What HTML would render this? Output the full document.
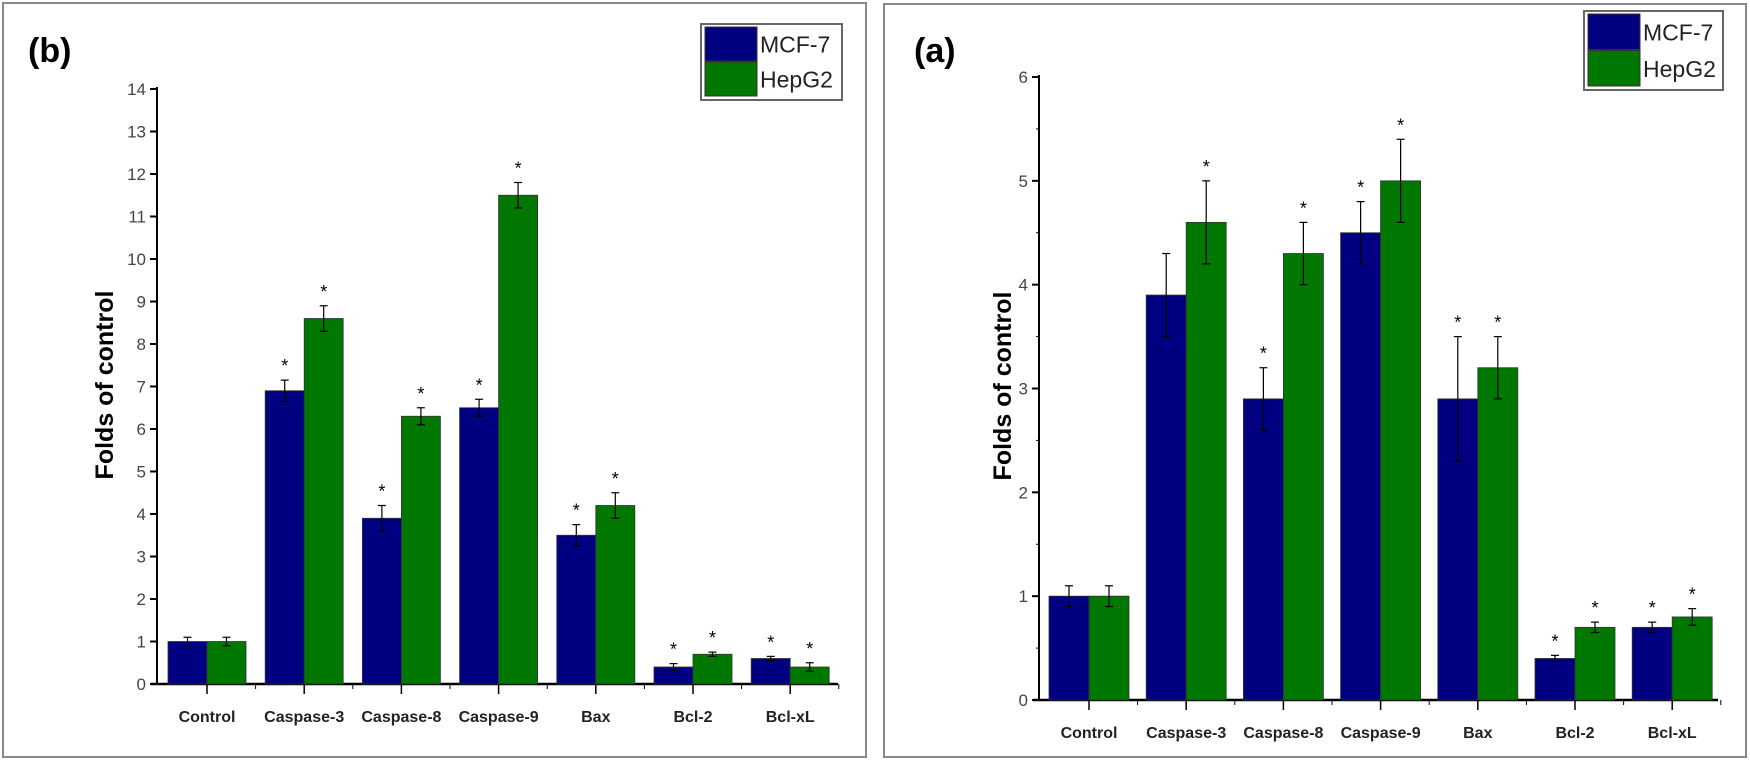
<!DOCTYPE html>
<html><head><meta charset="utf-8"><style>
body{margin:0;background:#fff;}
svg{display:block;font-family:"Liberation Sans",Arial,sans-serif;}
</style></head><body>
<svg id="s" width="1750" height="762">
<rect x="3" y="3" width="863" height="754" fill="none" stroke="#888" stroke-width="2"/>
<rect x="884" y="4" width="862" height="753" fill="none" stroke="#888" stroke-width="2"/>
<text x="28" y="62" font-size="34" font-weight="bold">(b)</text>
<text x="914" y="62" font-size="34" font-weight="bold">(a)</text>
</svg>
<script>
const categories=["Control","Caspase-3","Caspase-8","Caspase-9","Bax","Bcl-2","Bcl-xL"];
const bMcf=[1.0,6.9,3.9,6.5,3.5,0.4,0.6];
const bMcfErr=[0.1,0.25,0.3,0.2,0.25,0.08,0.05];
const bHep=[1.0,8.6,6.3,11.5,4.2,0.7,0.4];
const bHepErr=[0.1,0.3,0.2,0.3,0.3,0.05,0.1];
const aMcf=[1.0,3.9,2.9,4.5,2.9,0.4,0.7];
const aMcfErr=[0.1,0.4,0.3,0.3,0.6,0.03,0.05];
const aHep=[1.0,4.6,4.3,5.0,3.2,0.7,0.8];
const aHepErr=[0.1,0.4,0.3,0.4,0.3,0.05,0.08];
const bTicks=[0,1,2,3,4,5,6,7,8,9,10,11,12,13,14];
const aTicks=[0,1,2,3,4,5,6];
const bStars=[false,true,true,true,true,true,true];
const aStarsM=[false,false,true,true,true,true,true];
const aStarsH=[false,true,true,true,true,true,true];
const NS="http://www.w3.org/2000/svg";
const svg=document.getElementById('s');
function el(t,a,txt){const e=document.createElementNS(NS,t);for(const k in a)e.setAttribute(k,a[k]);if(txt!==undefined)e.textContent=txt;svg.appendChild(e);return e;}
function panel(p){
 const y=v=>p.y0-(v/p.max)*(p.y0-p.y1);
 const x=i=>p.first+i*p.step;
 let e=el('line',{x1:p.ax,y1:p.y0,x2:p.ax,y2:p.y1-2,stroke:'#000','stroke-width':2});
 
 e=el('line',{x1:p.ax-6,y1:p.y0,x2:p.xend,y2:p.y0,stroke:'#000','stroke-width':2.5});
 
 p.ticks.forEach(t=>{
  el('line',{x1:p.ax-7,y1:y(t),x2:p.ax,y2:y(t),stroke:'#000','stroke-width':2});
  e=el('text',{x:p.ax-11,y:y(t)+6,'font-size':17,'text-anchor':'end',fill:'#444'},t);
  
  if(p.minor&&t<p.max)el('line',{x1:p.ax-3,y1:y(t+0.5),x2:p.ax,y2:y(t+0.5),stroke:'#000','stroke-width':1});
 });
 categories.forEach((c,i)=>{
  const cx=x(i);
  el('line',{x1:cx,y1:p.y0,x2:cx,y2:p.y0+10,stroke:'#000','stroke-width':1.5});
  el('line',{x1:cx+p.step/2,y1:p.y0,x2:cx+p.step/2,y2:p.y0+5,stroke:'#000','stroke-width':1});
  e=el('text',{x:cx,y:p.y0+38,'font-size':16,'font-weight':'bold','text-anchor':'middle',fill:'#222'},c);
  
  [[p.m,p.me,'#000080',-p.bw,'mcf7',p.sm],[p.h,p.he,'#007800',0,'hepg2',p.sh]].forEach(s=>{
   const v=s[0][i],er=s[1][i],bx=cx+s[3];
   e=el('rect',{x:bx,y:y(v),width:p.bw,height:p.y0-y(v),fill:s[2],stroke:'#333','stroke-width':0.8});
   
   const mx=bx+p.bw/2;
   el('line',{x1:mx,y1:y(v+er),x2:mx,y2:y(v-er),stroke:'#000','stroke-width':1.2});
   el('line',{x1:mx-4,y1:y(v+er),x2:mx+4,y2:y(v+er),stroke:'#000','stroke-width':1.2});
   el('line',{x1:mx-4,y1:y(v-er),x2:mx+4,y2:y(v-er),stroke:'#000','stroke-width':1.2});
   if(s[5][i]){e=el('text',{x:mx,y:y(v+er)-8,'font-size':18,'text-anchor':'middle'},'*');
    }
  });
 });
 e=el('text',{x:0,y:0,'font-size':25,'font-weight':'bold','text-anchor':'middle',transform:`translate(${p.lx},${p.ly}) rotate(-90)`},'Folds of control');
 
 const L=p.leg;
 e=el('rect',{x:L[0],y:L[1],width:L[2],height:L[3],fill:'#fff',stroke:'#666','stroke-width':2});
 
 const hh=(L[3]-6)/2;
 [['MCF-7','#000080'],['HepG2','#007800']].forEach((s,k)=>{
  el('rect',{x:L[0]+4,y:L[1]+3+k*hh,width:52,height:hh-1,fill:s[1],stroke:'#333'});
  e=el('text',{x:L[0]+59,y:L[1]+3+k*hh+hh/2+8,'font-size':23,fill:'#222'},s[0]);
  
 });
}
panel({id:'panel-b',ax:157,first:207,step:97.2,y0:684,y1:89,max:14,xend:838,bw:39,ticks:bTicks,minor:false,
 m:bMcf,me:bMcfErr,h:bHep,he:bHepErr,sm:bStars,sh:bStars,lx:113,ly:385,leg:[701,24,141,76]});
panel({id:'panel-a',ax:1039,first:1089,step:97.2,y0:700,y1:77,max:6,xend:1718,bw:40,ticks:aTicks,minor:true,
 m:aMcf,me:aMcfErr,h:aHep,he:aHepErr,sm:aStarsM,sh:aStarsH,lx:1011,ly:386,leg:[1584,11,139,79]});
</script>
</body></html>
